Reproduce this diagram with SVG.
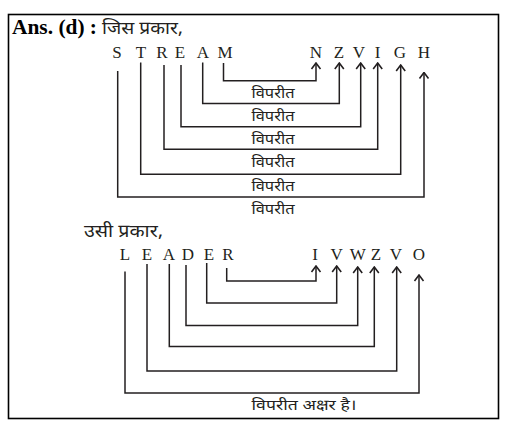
<svg xmlns="http://www.w3.org/2000/svg" width="524" height="442" viewBox="0 0 524 442">
<defs>
<style>
.frame{fill:none;stroke:#000;stroke-width:1.6}
.lt{font-family:"Liberation Serif",serif;font-size:17px;fill:#231f20;text-anchor:middle}
.hd{font-family:"Noto Sans Devanagari","Noto Sans","Lohit Devanagari",sans-serif;font-size:15px;fill:#231f20}
.hdm{text-anchor:middle}
.big{font-size:18px}
.ans{font-family:"Liberation Serif",serif;font-size:20px;font-weight:bold;fill:#000}
.c{fill:none;stroke:#231f20;stroke-width:1.5;marker-end:url(#ah)}
</style>
<marker id="ah" viewBox="-1 -6 8 12" refX="6" refY="0" markerWidth="8" markerHeight="12" markerUnits="userSpaceOnUse" orient="auto">
<path d="M0,-4.5 L6,0 L0,4.5" fill="none" stroke="#231f20" stroke-width="1.6"/>
</marker>
</defs>
<rect class="frame" x="8.5" y="14.5" width="490" height="404"/>
<g id="title">
<text class="ans" x="12" y="34" textLength="85" lengthAdjust="spacingAndGlyphs">Ans. (d) :</text>
<text class="hd big" x="102" y="34" textLength="81" lengthAdjust="spacingAndGlyphs">जिस प्रकार,</text>
</g>
<g id="top-source">
<g id="n-S"><text class="lt" x="117" y="58">S</text></g>
<g id="n-T"><text class="lt" x="141" y="58">T</text></g>
<g id="n-R"><text class="lt" x="162" y="58">R</text></g>
<g id="n-E"><text class="lt" x="180" y="58">E</text></g>
<g id="n-A"><text class="lt" x="203" y="58">A</text></g>
<g id="n-M"><text class="lt" x="225" y="58">M</text></g>
</g>
<g id="top-target">
<g id="n-N"><text class="lt" x="316" y="58">N</text></g>
<g id="n-Z"><text class="lt" x="339" y="58">Z</text></g>
<g id="n-V"><text class="lt" x="359" y="58">V</text></g>
<g id="n-I"><text class="lt" x="377.5" y="58">I</text></g>
<g id="n-G"><text class="lt" x="400" y="58">G</text></g>
<g id="n-H"><text class="lt" x="424" y="58">H</text></g>
</g>
<g id="connectors-top">
<path class="c" d="M223.5,63 V80.7 H316 V63"/>
<path class="c" d="M202.7,62.5 V103.5 H339.3 V63"/>
<path class="c" d="M181,65 V126.7 H360.7 V63"/>
<path class="c" d="M164,65 V149.3 H377.7 V63"/>
<path class="c" d="M140.7,62.5 V174.3 H400.7 V65"/>
<path class="c" d="M117.7,71 V197 H424 V72.5"/>
</g>
<g id="labels-top">
<text class="hd hdm" x="273" y="98" textLength="43" lengthAdjust="spacingAndGlyphs">विपरीत</text>
<text class="hd hdm" x="273" y="121" textLength="43" lengthAdjust="spacingAndGlyphs">विपरीत</text>
<text class="hd hdm" x="273" y="144" textLength="43" lengthAdjust="spacingAndGlyphs">विपरीत</text>
<text class="hd hdm" x="273" y="167" textLength="43" lengthAdjust="spacingAndGlyphs">विपरीत</text>
<text class="hd hdm" x="273" y="191" textLength="43" lengthAdjust="spacingAndGlyphs">विपरीत</text>
<text class="hd hdm" x="273" y="214" textLength="43" lengthAdjust="spacingAndGlyphs">विपरीत</text>
</g>
<g id="subtitle">
<text class="hd big" x="84" y="237" textLength="79" lengthAdjust="spacingAndGlyphs">उसी प्रकार,</text>
</g>
<g id="bottom-source">
<g id="n-L"><text class="lt" x="125" y="260">L</text></g>
<g id="n-E1"><text class="lt" x="147" y="260">E</text></g>
<g id="n-A2"><text class="lt" x="169" y="260">A</text></g>
<g id="n-D"><text class="lt" x="188" y="260">D</text></g>
<g id="n-E2"><text class="lt" x="209" y="260">E</text></g>
<g id="n-R2"><text class="lt" x="228" y="260">R</text></g>
</g>
<g id="bottom-target">
<g id="n-I2"><text class="lt" x="315" y="260">I</text></g>
<g id="n-V2"><text class="lt" x="336.7" y="260">V</text></g>
<g id="n-W"><text class="lt" x="357.7" y="260">W</text></g>
<g id="n-Z2"><text class="lt" x="376" y="260">Z</text></g>
<g id="n-V3"><text class="lt" x="396" y="260">V</text></g>
<g id="n-O"><text class="lt" x="419" y="260">O</text></g>
</g>
<g id="connectors-bottom">
<path class="c" d="M226.7,268 V281 H316 V266"/>
<path class="c" d="M206.7,263 V303 H336.7 V266"/>
<path class="c" d="M186,265 V325.5 H357.7 V267"/>
<path class="c" d="M169.3,264 V346.5 H374.3 V267"/>
<path class="c" d="M147,264 V371 H396.7 V267"/>
<path class="c" d="M125,271.5 V393 H419 V275"/>
</g>
<g id="labels-bottom">
<text class="hd hdm" x="304" y="410" textLength="105" lengthAdjust="spacingAndGlyphs">विपरीत अक्षर है।</text>
</g>
</svg>
